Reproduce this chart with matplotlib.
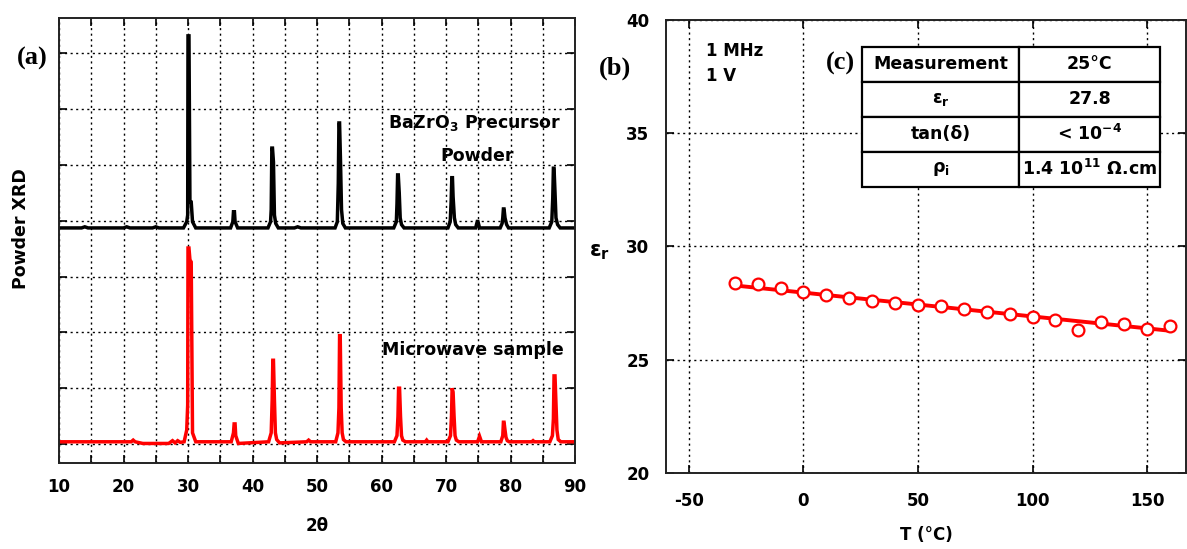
import matplotlib
matplotlib.use("Agg")
import matplotlib.pyplot as plt
from matplotlib.ticker import MultipleLocator

plt.rcParams["font.family"] = ["DejaVu Sans"]
plt.rcParams["font.weight"] = "bold"
plt.rcParams["mathtext.fontset"] = "dejavusans"
plt.rcParams["mathtext.default"] = "bf"
plt.rcParams["axes.unicode_minus"] = False

# ---------------------------------------------------------------------------
# Data
# ---------------------------------------------------------------------------

# (a) XRD traces, vertices in 2theta / intensity (grid units, offset traces)
precursor_tt = [10.0, 13.5, 14.0, 14.5, 20.0, 20.5, 21.0, 24.5, 25.0, 25.5,
                29.3, 29.8, 29.95, 30.0, 30.15, 30.3, 30.5, 30.7, 31.2,
                36.6, 36.95, 37.05, 37.2, 37.3, 37.7,
                42.4, 42.8, 42.9, 43.0, 43.1, 43.25, 43.4, 43.6, 44.0,
                46.5, 47.0, 47.5,
                52.8, 53.15, 53.3, 53.4, 53.5, 53.65, 53.8, 54.0, 54.4,
                61.9, 62.3, 62.4, 62.5, 62.6, 62.75, 62.9, 63.1, 63.5,
                70.3, 70.65, 70.8, 70.9, 71.0, 71.1, 71.3, 71.5, 71.9,
                74.6, 74.9, 75.2,
                78.4, 78.7, 78.8, 78.9, 79.0, 79.15, 79.4, 79.7,
                86.0, 86.4, 86.55, 86.65, 86.75, 86.9, 87.05, 87.3, 87.7,
                90.0]
precursor_int = [3.87, 3.87, 3.89, 3.87, 3.87, 3.89, 3.87, 3.87, 3.89, 3.87,
                 3.87, 3.98, 4.10, 7.31, 7.31, 4.33, 4.33, 3.98, 3.87,
                 3.87, 3.98, 4.16, 4.16, 3.98, 3.87,
                 3.87, 3.98, 4.20, 5.30, 5.30, 5.05, 4.10, 3.95, 3.87,
                 3.87, 3.89, 3.87,
                 3.87, 3.98, 4.67, 5.75, 5.75, 5.04, 4.20, 3.95, 3.87,
                 3.87, 3.98, 4.30, 4.82, 4.82, 4.50, 4.05, 3.93, 3.87,
                 3.87, 3.98, 4.35, 4.77, 4.77, 4.43, 4.05, 3.93, 3.87,
                 3.87, 4.01, 3.87,
                 3.87, 3.95, 4.05, 4.21, 4.21, 4.05, 3.93, 3.87,
                 3.87, 3.98, 4.40, 4.94, 4.94, 4.51, 4.05, 3.93, 3.87,
                 3.87]

microwave_tt = [10.0, 21.2, 21.5, 21.8, 23.0, 27.0, 27.6, 28.0, 28.4, 28.8,
                29.4, 29.8, 29.95, 30.0, 30.15, 30.3, 30.5, 30.7, 31.2,
                36.7, 37.05, 37.15, 37.3, 37.4, 37.8,
                42.5, 42.9, 43.05, 43.15, 43.25, 43.4, 43.55, 43.75, 44.2,
                48.4, 48.7, 49.0,
                52.9, 53.25, 53.4, 53.5, 53.6, 53.75, 53.9, 54.1, 54.5,
                62.0, 62.4, 62.55, 62.65, 62.8, 62.95, 63.1, 63.3, 63.7,
                66.8, 67.0, 67.2,
                70.3, 70.7, 70.85, 70.95, 71.1, 71.25, 71.4, 71.6, 72.0,
                74.9, 75.2, 75.5,
                78.5, 78.8, 78.9, 79.0, 79.15, 79.3, 79.5, 79.8,
                83.3, 83.5, 83.7,
                86.1, 86.5, 86.65, 86.75, 86.9, 87.05, 87.2, 87.4, 87.8,
                90.0]
microwave_int = [0.04, 0.04, 0.07, 0.04, 0.01, 0.01, 0.06, 0.02, 0.06, 0.03,
                 0.04, 0.25, 0.70, 3.51, 3.51, 3.30, 3.26, 0.20, 0.04,
                 0.04, 0.20, 0.36, 0.36, 0.15, 0.01,
                 0.04, 0.20, 0.79, 1.50, 1.50, 0.79, 0.20, 0.08, 0.02,
                 0.04, 0.07, 0.04,
                 0.04, 0.20, 0.65, 1.94, 1.94, 0.65, 0.20, 0.08, 0.04,
                 0.04, 0.15, 0.49, 1.00, 1.00, 0.49, 0.15, 0.07, 0.04,
                 0.04, 0.07, 0.04,
                 0.04, 0.15, 0.50, 1.00, 0.93, 0.50, 0.15, 0.07, 0.04,
                 0.04, 0.14, 0.04,
                 0.04, 0.15, 0.39, 0.39, 0.25, 0.12, 0.06, 0.04,
                 0.04, 0.06, 0.04,
                 0.04, 0.15, 0.45, 1.22, 1.22, 0.73, 0.25, 0.08, 0.04,
                 0.04]

# (b) permittivity vs temperature
temp_c = [-30, -20, -10, 0, 10, 20, 30, 40, 50, 60, 70, 80, 90, 100,
          110, 120, 130, 140, 150, 160]
eps_r = [28.40, 28.34, 28.15, 27.98, 27.86, 27.71, 27.59, 27.52, 27.40, 27.39,
         27.24, 27.12, 27.01, 26.87, 26.76, 26.32, 26.68, 26.56, 26.36, 26.49]
fit_temp = [-30, 160]
fit_eps = [28.28, 26.28]

# (c) table
table_rows = [["Measurement", "25°C"],
              ["ε$_{r}$", "27.8"],
              ["tan(δ)", "< 10$^{-4}$"],
              ["ρ$_{i}$", "1.4 10$^{11}$ Ω.cm"]]

# ---------------------------------------------------------------------------
# Figure
# ---------------------------------------------------------------------------
W, H = 1187, 549
fig = plt.figure(figsize=(W / 100, H / 100), dpi=100)


def px_axes(left, right, top, bottom):
    return fig.add_axes([left / W, 1 - bottom / H, (right - left) / W, (bottom - top) / H])


def style_axes(ax):
    for s in ax.spines.values():
        s.set_linewidth(1.4)
        s.set_color("#222222")
    ax.tick_params(which="both", direction="in", top=True, right=True,
                   length=6, width=1.2, labelsize=12, pad=11)
    ax.grid(which="both", color="black", linestyle=(0, (1.5, 2.5)), linewidth=1.0)
    ax.set_axisbelow(True)
    for lab in ax.get_xticklabels() + ax.get_yticklabels():
        lab.set_fontweight("bold")


# ── (a) XRD ─────────────────────────────────────────────────────────────────
ax1 = px_axes(59, 575, 18, 463)
ax1.plot(precursor_tt, precursor_int, color="black", lw=2.5, solid_joinstyle="miter")
ax1.plot(microwave_tt, microwave_int, color="#ff0000", lw=2.5, solid_joinstyle="miter")
ax1.set_xlim(10, 90)
ax1.set_ylim(-0.34, 7.63)
ax1.xaxis.set_major_locator(MultipleLocator(10))
ax1.xaxis.set_minor_locator(MultipleLocator(5))
ax1.yaxis.set_major_locator(MultipleLocator(1))
style_axes(ax1)
ax1.tick_params(axis="y", labelleft=False)
ax1.set_xlabel("2θ", fontsize=12, fontweight="bold", labelpad=15)

ax1.text(0.637, 0.765, "BaZrO$_{3}$ Precursor", transform=ax1.transAxes,
         fontsize=12.5, fontweight="bold", ha="left", va="center")
ax1.text(0.74, 0.69, "Powder", transform=ax1.transAxes,
         fontsize=12.5, fontweight="bold", ha="left", va="center")
ax1.text(0.625, 0.255, "Microwave sample", transform=ax1.transAxes,
         fontsize=12.5, fontweight="bold", ha="left", va="center")

fig.text(21 / W, 1 - 229 / H, "Powder XRD", rotation=90, fontsize=12.5,
         fontweight="bold", ha="center", va="center")
fig.text(32 / W, 1 - 58 / H, "(a)", fontsize=19, fontweight="bold",
         family="Liberation Serif", ha="center", va="center")

# ── (b) permittivity ────────────────────────────────────────────────────────
ax2 = px_axes(666, 1186, 20, 473)
ax2.plot(fit_temp, fit_eps, color="#ff0000", lw=2.8, zorder=3)
ax2.plot(temp_c, eps_r, linestyle="none", marker="o", markersize=8.5,
         markerfacecolor="white", markeredgecolor="#ff0000",
         markeredgewidth=1.6, zorder=4)
ax2.set_xlim(-60, 167)
ax2.set_ylim(20, 40)
ax2.xaxis.set_major_locator(MultipleLocator(50))
ax2.yaxis.set_major_locator(MultipleLocator(5))
style_axes(ax2)
ax2.tick_params(axis="y", pad=12)
ax2.tick_params(axis="x", pad=14)
ax2.set_xlabel("T (°C)", fontsize=12, fontweight="bold", labelpad=11)

fig.text(600 / W, 1 - 252 / H, "ε$_{r}$", fontsize=15, fontweight="bold",
         ha="center", va="center")
fig.text(615 / W, 1 - 68 / H, "(b)", fontsize=19, fontweight="bold",
         family="Liberation Serif", ha="center", va="center")
ax2.text(0.077, 0.932, "1 MHz", transform=ax2.transAxes, fontsize=12,
         fontweight="bold", ha="left", va="center")
ax2.text(0.077, 0.877, "1 V", transform=ax2.transAxes, fontsize=12,
         fontweight="bold", ha="left", va="center")

# ── (c) table ───────────────────────────────────────────────────────────────
fig.text(840 / W, 1 - 63 / H, "(c)", fontsize=19, fontweight="bold",
         family="Liberation Serif", ha="center", va="center")
tbl = ax2.table(cellText=table_rows, cellLoc="center", colWidths=[0.527, 0.473],
                bbox=[0.3766, 0.632, 0.5735, 0.309], zorder=6)
tbl.auto_set_font_size(False)
for (r, c), cell in tbl.get_celld().items():
    cell.set_linewidth(1.6)
    cell.set_edgecolor("black")
    cell.set_facecolor("white")
    cell.get_text().set_fontsize(12.5)
    cell.get_text().set_fontweight("bold")

fig.savefig("out.png", dpi=100)
